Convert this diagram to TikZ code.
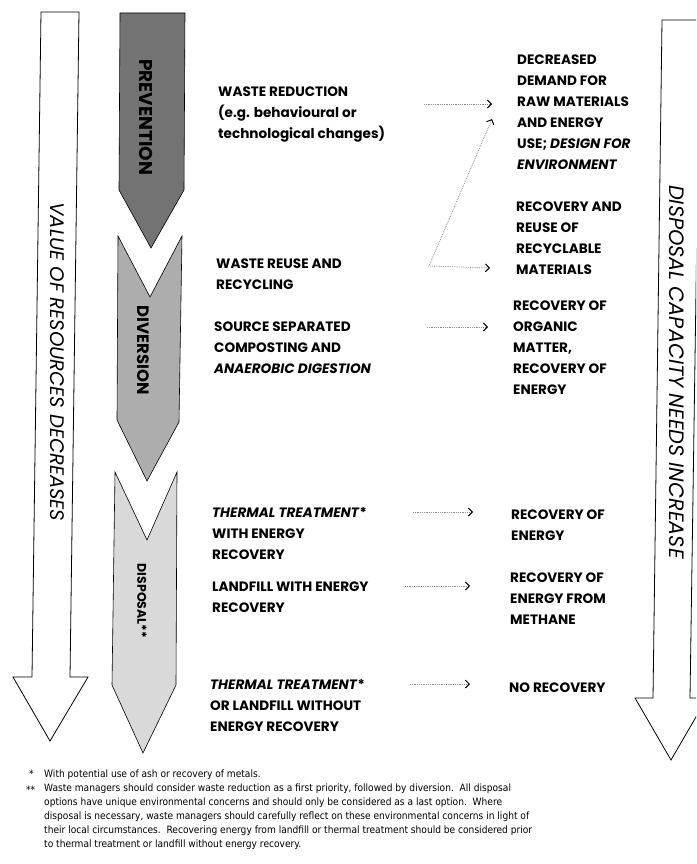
\documentclass[tikz,border=0pt]{standalone}
\usepackage{fontspec}
\setmainfont{Poppins}
\newfontfamily\notefont{DejaVu Sans Condensed}
\usetikzlibrary{arrows.meta}

\tikzset{
  chev/.style={draw=black, line width=0.6pt},
  bigarrow/.style={draw=black, line width=0.8pt, fill=white},
  flow/.style={black!45, densely dotted, line width=0.8pt, -{Straight Barb[length=4pt,width=8pt,color=black,line width=1pt]}},
  lbl/.style={anchor=north west, inner sep=0pt, align=left, font=\fontsize{13.6}{21}\selectfont\bfseries},
  side/.style={rotate=-90, inner sep=0pt},
  stage/.style={rotate=-90, inner sep=0pt},
  note/.style={inner sep=0pt, font=\notefont\fontsize{10.1}{13.9}\selectfont}
}

\begin{document}
\begin{tikzpicture}[x=1pt, y=-1pt]
\useasboundingbox (0,0) rectangle (696,864);
\clip (0,0) rectangle (696,864);

\draw[bigarrow] (41,12) -- (79,12) -- (70,677) -- (88,677) -- (50,741) -- (13,677) -- (32,677) -- cycle;
\node[side, font=\fontsize{19.6}{21}\selectfont\itshape] (value) at (57,362) {VALUE OF RESOURCES DECREASES};
\draw[bigarrow] (662,20) -- (700,20) -- (690,698) -- (707,698) -- (671,760) -- (635,698) -- (653,698) -- cycle;
\node[side, font=\fontsize{20.8}{22}\selectfont\itshape] (capacity) at (677,372) {DISPOSAL CAPACITY NEEDS INCREASE};

\fill[chev, fill=black!55] (120,13) -- (185,13) -- (184,190) -- (151,248) -- (119,190) -- cycle;
\fill[chev, fill=black!32] (118,236) -- (150,297) -- (182,236) -- (179,422) -- (147,481) -- (117,420) -- cycle;
\fill[chev, fill=black!15] (115,472) -- (147,540) -- (177,472) -- (176,685) -- (143,753) -- (112,685) -- cycle;
\node[stage, font=\fontsize{18.5}{20}\selectfont\bfseries] (prevention) at (146,117) {PREVENTION};
\node[stage, font=\fontsize{16.5}{18}\selectfont\bfseries] (diversion) at (143,350) {DIVERSION};
\node[stage, font=\fontsize{12.5}{14}\selectfont\bfseries] (disposal) at (142,601) {DISPOSAL**};

\node[lbl] (reduction) at (218,87) {WASTE REDUCTION\\(e.g. behavioural or\\technological changes)};
\node[lbl] (reuse) at (216,259) {WASTE REUSE AND\\RECYCLING};
\node[lbl] (compost) at (214,322) {SOURCE SEPARATED\\COMPOSTING AND\\\textit{ANAEROBIC DIGESTION}};
\node[lbl] (thermalrec) at (212,507) {\textit{THERMAL TREATMENT}*\\WITH ENERGY\\RECOVERY};
\node[lbl] (landfill) at (212,582) {LANDFILL WITH ENERGY\\RECOVERY};
\node[lbl] (thermalnone) at (210,679) {\textit{THERMAL TREATMENT}*\\OR LANDFILL WITHOUT\\ENERGY RECOVERY};

\node[lbl] (demand) at (517,55) {DECREASED\\DEMAND FOR\\RAW MATERIALS\\AND ENERGY\\USE; \textit{DESIGN FOR}\\\textit{ENVIRONMENT}};
\node[lbl] (recyclable) at (516,202) {RECOVERY AND\\REUSE OF\\RECYCLABLE\\MATERIALS};
\node[lbl] (organic) at (513,301) {RECOVERY OF\\ORGANIC\\MATTER,\\RECOVERY OF\\ENERGY};
\node[lbl] (energy) at (511,510) {RECOVERY OF\\ENERGY};
\node[lbl] (methane) at (510,573) {RECOVERY OF\\ENERGY FROM\\METHANE};
\node[lbl] (norec) at (509,683) {NO RECOVERY};

\coordinate (r1) at (424,104); \coordinate (r2) at (492,104);
\coordinate (z1) at (492,119); \coordinate (z2) at (429,266); \coordinate (z3) at (490,268);
\coordinate (c1) at (427,327); \coordinate (c2) at (488,327);
\coordinate (t1) at (413,512); \coordinate (t2) at (473,512);
\coordinate (l1) at (405,586); \coordinate (l2) at (470,586);
\coordinate (n1) at (410,684); \coordinate (n2) at (470,684);
\draw[flow] (r1) -- (r2);
\draw[flow, {Straight Barb[length=4pt,width=8pt,color=black,line width=1pt]}-{Straight Barb[length=4pt,width=8pt,color=black,line width=1pt]}] (z1) -- (z2) -- (z3);
\draw[flow] (c1) -- (c2);
\draw[flow] (t1) -- (t2);
\draw[flow] (l1) -- (l2);
\draw[flow] (n1) -- (n2);

\node[note, anchor=base west] (star1) at (29,777) {*};
\node[note, anchor=base west] (note1) at (44,777) {With potential use of ash or recovery of metals.};
\node[note, anchor=base west] (star2) at (26,793) {**};
\node[note, anchor=north west, align=left] (note2) at (44,784)
  {Waste managers should consider waste reduction as a first priority, followed by diversion.\ \ All disposal\\
   options have unique environmental concerns and should only be considered as a last option.\ \ Where\\
   disposal is necessary, waste managers should carefully reflect on these environmental concerns in light of\\
   their local circumstances.\ \ Recovering energy from landfill or thermal treatment should be considered prior\\
   to thermal treatment or landfill without energy recovery.};
\end{tikzpicture}
\end{document}
